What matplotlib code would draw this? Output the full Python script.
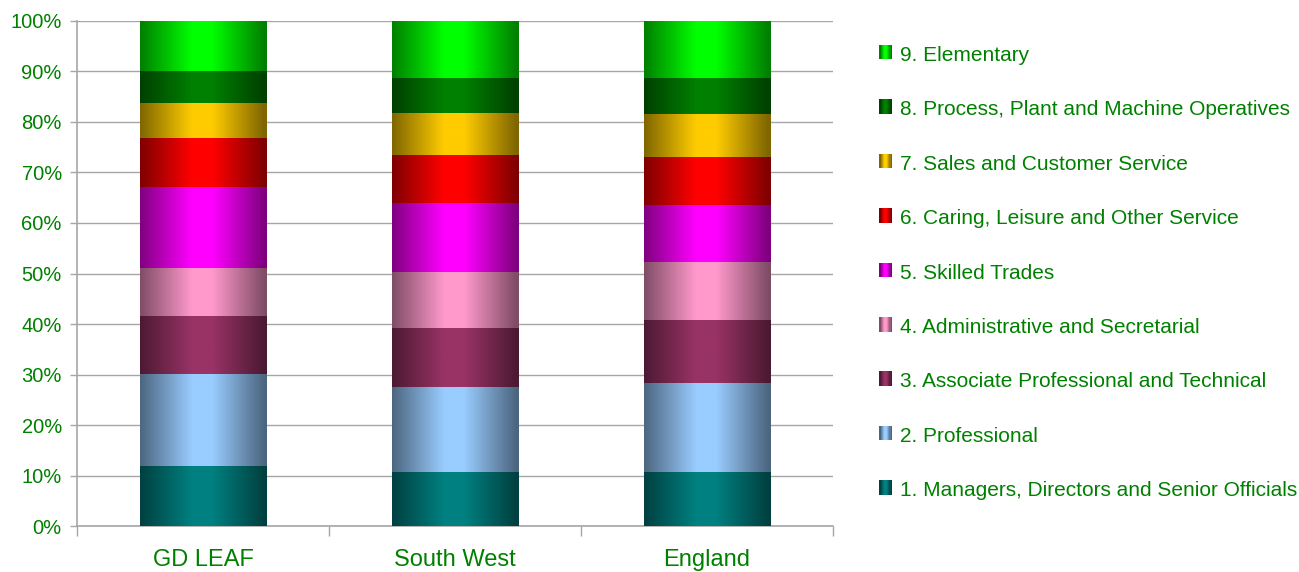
import numpy as np
import matplotlib
matplotlib.use("Agg")
import matplotlib.pyplot as plt
from matplotlib.patches import Rectangle
from matplotlib.legend_handler import HandlerBase
from matplotlib.colors import to_rgb

plt.rcParams["font.family"] = ["Liberation Sans", "DejaVu Sans"]

areas = ["GD LEAF", "South West", "England"]
groups = [
    "1. Managers, Directors and Senior Officials",
    "2. Professional",
    "3. Associate Professional and Technical",
    "4. Administrative and Secretarial",
    "5. Skilled Trades",
    "6. Caring, Leisure and Other Service",
    "7. Sales and Customer Service",
    "8. Process, Plant and Machine Operatives",
    "9. Elementary",
]
# share of employment (%), one list per occupation group, order = areas
managers = [11.9, 10.7, 10.7]
professional = [18.2, 16.8, 17.6]
associate = [11.5, 11.7, 12.5]
admin = [9.5, 11.1, 11.5]
skilled = [16.0, 13.7, 11.3]
caring = [9.8, 9.5, 9.5]
sales = [6.9, 8.3, 8.5]
process = [6.2, 6.9, 7.1]
elementary = [10.0, 11.3, 11.3]
series = [managers, professional, associate, admin, skilled,
          caring, sales, process, elementary]
colors = ["#008080", "#99CCFF", "#993366", "#FF99CC", "#FF00FF",
          "#FF0000", "#FFCC00", "#008000", "#00FF00"]

TXT = "#008000"
GRID = "#A6A6A6"


def shade_profile(n=200):
    # Excel-style "from centre" gradient: dark edges, bright middle
    x = np.linspace(0, 1, n)
    d = np.clip((np.abs(x - 0.49) - 0.08) / 0.41, 0, 1)
    return 1.0 - 0.5 * d


def gradient_img(color, n=200):
    rgb = np.array(to_rgb(color))
    f = shade_profile(n)
    return (f[:, None] * rgb[None, :])[None, :, :]


class GradHandler(HandlerBase):
    """Small square legend key with the same centre gradient as the bars."""
    def create_artists(self, legend, orig, xd, yd, w, h, fs, trans):
        c = orig.get_facecolor()
        sw, sh = 9.0, 10.5   # points (~12x14 px)
        x0 = xd
        y0 = yd + (h - sh) / 2
        n = 10
        f = shade_profile(n)
        rgb = np.array(c[:3])
        arts = []
        for i in range(n):
            r = Rectangle((x0 + i * sw / n, y0), sw / n + 0.15, sh,
                          facecolor=f[i] * rgb, edgecolor="none",
                          transform=trans)
            arts.append(r)
        return arts


fig = plt.figure(figsize=(12.99, 5.72), dpi=100)
ax = fig.add_axes([0.0593, 0.0804, 0.582, 0.8829])

x = np.arange(len(areas))
bottom = np.zeros(len(areas))
handles = []
for vals, col, name in zip(series, colors, groups):
    bars = ax.bar(x, vals, 0.5, bottom=bottom, color=col, linewidth=0,
                  zorder=2, label=name)
    for p in bars:
        x0, y0 = p.get_x(), p.get_y()
        ax.imshow(gradient_img(col), aspect="auto",
                  extent=(x0, x0 + p.get_width(), y0, y0 + p.get_height()),
                  zorder=3, interpolation="bilinear")
    handles.append(Rectangle((0, 0), 1, 1, facecolor=col))
    bottom += np.array(vals)

ax.set_xlim(-0.5, 2.5)
ax.set_ylim(0, 100)
ax.set_yticks(np.arange(0, 101, 10))
ax.set_yticklabels([f"{v}%" for v in range(0, 101, 10)])
ax.set_xticks(x)
ax.set_xticklabels(areas)
ax.set_xticks([-0.5, 0.5, 1.5, 2.5], minor=True)
ax.tick_params(axis="x", which="major", length=0, pad=16.5, labelsize=17,
               labelcolor=TXT)
ax.tick_params(axis="x", which="minor", length=7, color=GRID, width=1)
ax.tick_params(axis="y", length=5, color=GRID, width=1, labelsize=14.5,
               labelcolor=TXT, pad=6)
ax.yaxis.grid(True, color=GRID, linewidth=1, zorder=0)
ax.set_axisbelow(True)
for s in ("top", "right"):
    ax.spines[s].set_visible(False)
for s in ("left", "bottom"):
    ax.spines[s].set_color(GRID)
    ax.spines[s].set_linewidth(1.2)

leg = fig.legend(handles[::-1], groups[::-1], loc="upper left",
                 bbox_to_anchor=(0.6625, 0.953), frameon=False,
                 fontsize=15, labelcolor=TXT, handlelength=0.75,
                 handleheight=0.8, handletextpad=0.25, labelspacing=1.69,
                 handler_map={Rectangle: GradHandler()})

fig.savefig("out.png", dpi=100)
